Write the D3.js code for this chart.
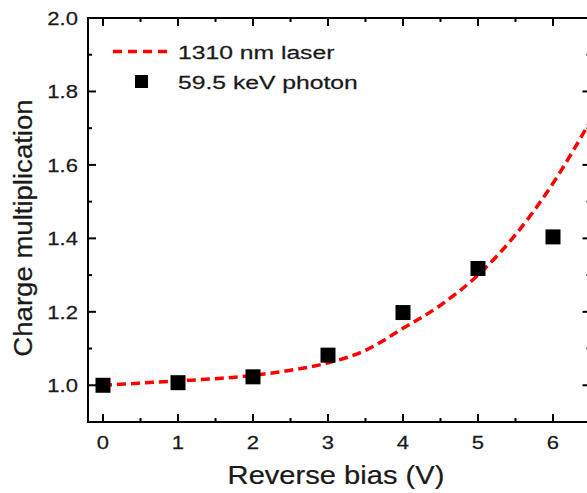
<!DOCTYPE html>
<html><head><meta charset="utf-8">
<script src="https://cdn.jsdelivr.net/npm/d3@7"></script>
<style>body{margin:0;background:#fff}svg{display:block}text{font-family:"Liberation Sans",Arial,sans-serif;fill:#1a1a1a;stroke:#1a1a1a;stroke-width:0.25}</style>
</head><body><svg id="c" width="587" height="493"></svg>
<script>
const biasV = [0,1,2,3,4,5,6];
const photonM = [1.000,1.007,1.023,1.082,1.198,1.318,1.404];
const laserV = [0,0.5,1,1.5,2,2.5,3,3.5,4,4.5,5,5.5,6,6.5];
const laserM = [1.000,1.006,1.012,1.018,1.027,1.041,1.061,1.095,1.155,1.218,1.300,1.410,1.550,1.720];
const xTicks = [0,1,2,3,4,5,6];
const yTicks = [1.0,1.2,1.4,1.6,1.8,2.0];
const legendLabels = ["1310 nm laser","59.5 keV photon"];

const svg = d3.select("#c");
const L=88,R=590.5,T=18,B=422;
const x = d3.scaleLinear().domain([-0.2,6.5]).range([L,R]);
const y = d3.scaleLinear().domain([0.9,2.0]).range([B,T]);

svg.append("defs").append("clipPath").attr("id","clip").append("rect")
  .attr("x",L).attr("y",T).attr("width",R-L).attr("height",B-T);

function label(parent, px, py, txt, size, sx, anchor, rot){
  const gg = parent.append("g").attr("transform",`translate(${px},${py})${rot?` rotate(${rot})`:""} scale(${sx},1)`);
  gg.append("text").attr("x",0).attr("y",0).attr("text-anchor",anchor).attr("font-size",size).text(txt);
  return gg;
}

// ticks (inward)
const g = svg.append("g").attr("stroke","#000").attr("stroke-width",2);
d3.range(0,6.51,0.5).forEach(v=>{
  const major = Math.abs(v-Math.round(v))<1e-6;
  const len = major?8:4;
  g.append("line").attr("x1",x(v)).attr("x2",x(v)).attr("y1",B).attr("y2",B-len);
  g.append("line").attr("x1",x(v)).attr("x2",x(v)).attr("y1",T).attr("y2",T+len);
});
d3.range(0.9,2.001,0.1).forEach(v=>{
  const major = Math.abs(v*5-Math.round(v*5))<1e-6;
  const len = major?8:4;
  g.append("line").attr("y1",y(v)).attr("y2",y(v)).attr("x1",L).attr("x2",L+len);
  g.append("line").attr("y1",y(v)).attr("y2",y(v)).attr("x1",R).attr("x2",R-len);
});
g.append("rect").attr("x",L).attr("y",T).attr("width",R-L).attr("height",B-T).attr("fill","none");

// tick labels
const tl = svg.append("g");
xTicks.forEach(d=>label(tl, x(d), 449, d, 19, 1.16, "middle"));
yTicks.forEach(d=>label(tl, 78, y(d)+7, d.toFixed(1), 19, 1.16, "end"));

// titles
label(svg, 336, 484, "Reverse bias (V)", 26, 1.12, "middle");
label(svg, 32, 228, "Charge multiplication", 26, 1.06, "middle", -90);

// laser curve
const line = d3.line().x((d,i)=>x(laserV[i])).y(d=>y(d)).curve(d3.curveMonotoneX);
svg.append("path").attr("clip-path","url(#clip)").datum(laserM).attr("d",line)
  .attr("fill","none").attr("stroke","#ff0000").attr("stroke-width",3.5).attr("stroke-dasharray","9,5");

// photon markers
const s=15;
svg.append("g").selectAll("rect").data(photonM).join("rect")
  .attr("x",(d,i)=>x(biasV[i])-s/2).attr("y",d=>y(d)-s/2).attr("width",s).attr("height",s).attr("fill","#000");

// legend
svg.append("line").attr("x1",113).attr("x2",172).attr("y1",51.5).attr("y2",51.5)
  .attr("stroke","#ff0000").attr("stroke-width",3.5).attr("stroke-dasharray","9,6");
label(svg, 178, 58.5, legendLabels[0], 19, 1.3, "start");
svg.append("rect").attr("x",135).attr("y",75).attr("width",13).attr("height",13).attr("fill","#000");
label(svg, 178, 88.5, legendLabels[1], 19, 1.3, "start");
</script></body></html>
